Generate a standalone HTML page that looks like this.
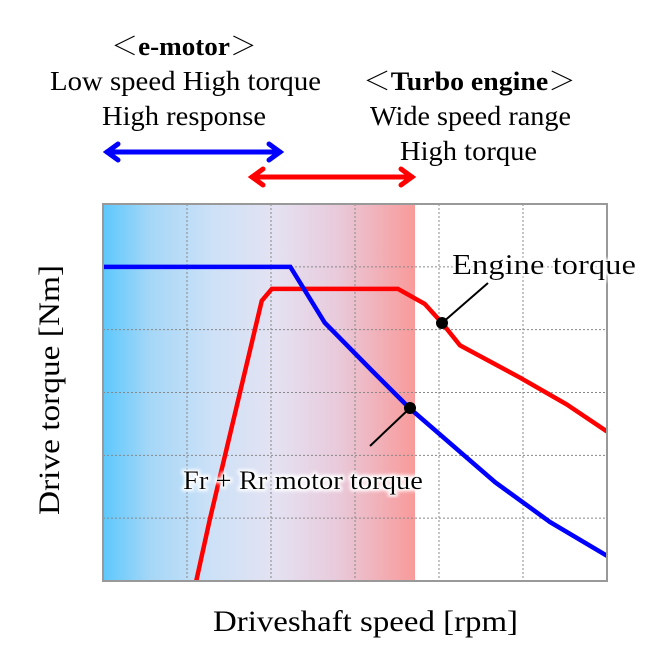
<!DOCTYPE html>
<html><head><meta charset="utf-8"><style>
body{margin:0;background:#fff;}
svg text{font-family:"Liberation Serif","Noto Serif CJK SC",serif;fill:#000;}
</style></head><body>
<svg id="chart" width="647" height="664" viewBox="0 0 647 664" xmlns="http://www.w3.org/2000/svg">
<defs>
<linearGradient id="bg" x1="0" x2="1" y1="0" y2="0">
<stop offset="0" stop-color="#5ec8fc"/><stop offset="0.15" stop-color="#a6d7f7"/>
<stop offset="0.35" stop-color="#cde1f7"/><stop offset="0.55" stop-color="#e4e2f2"/>
<stop offset="0.75" stop-color="#e8cadb"/><stop offset="1" stop-color="#f99a9a"/>
</linearGradient>
<filter id="glow"><feMorphology operator="dilate" radius="2" in="SourceAlpha" result="d"/><feGaussianBlur in="d" stdDeviation="1.5" result="b"/><feFlood flood-color="#fff"/><feComposite in2="b" operator="in"/><feMerge><feMergeNode/><feMergeNode in="SourceGraphic"/></feMerge></filter>
</defs>
<text x="111" y="55" font-size="26" textLength="146" lengthAdjust="spacingAndGlyphs">＜<tspan font-weight="bold">e-motor</tspan>＞</text>
<text x="50" y="90" font-size="27" textLength="271" lengthAdjust="spacingAndGlyphs">Low speed High torque</text>
<text x="102" y="125" font-size="27" textLength="164" lengthAdjust="spacingAndGlyphs">High response</text>
<text x="363" y="90" font-size="26" textLength="213" lengthAdjust="spacingAndGlyphs">＜<tspan font-weight="bold">Turbo engine</tspan>＞</text>
<text x="370" y="125" font-size="27" textLength="201" lengthAdjust="spacingAndGlyphs">Wide speed range</text>
<text x="400" y="160" font-size="27" textLength="137" lengthAdjust="spacingAndGlyphs">High torque</text>
<g stroke="#0000ff" stroke-width="5" fill="none" stroke-linecap="round">
<line x1="107" y1="152" x2="280" y2="152"/><polyline points="118,144 107,152 118,160"/><polyline points="269,144 280,152 269,160"/></g>
<g stroke="#ff0000" stroke-width="5" fill="none" stroke-linecap="round">
<line x1="252" y1="177" x2="412" y2="177"/><polyline points="263,169 252,177 263,185"/><polyline points="401,169 412,177 401,185"/></g>
<rect x="104" y="205" width="311" height="375" fill="url(#bg)"/>
<g id="grid"></g>
<g id="series"></g>
<rect x="103" y="204" width="504" height="377" fill="none" stroke="#999" stroke-width="2"/>
<line x1="442" y1="323" x2="488" y2="283" stroke="#000" stroke-width="2"/>
<line x1="410" y1="408" x2="370" y2="446" stroke="#000" stroke-width="2"/>
<circle cx="442" cy="323" r="6"/>
<circle cx="410" cy="408" r="6"/>
<text x="452" y="274" font-size="29" textLength="184" lengthAdjust="spacingAndGlyphs" filter="url(#glow)">Engine torque</text>
<text x="183" y="489" font-size="26" textLength="240" lengthAdjust="spacingAndGlyphs" filter="url(#glow)">Fr + Rr motor torque</text>
<text transform="translate(59,515) rotate(-90)" font-size="30" textLength="250" lengthAdjust="spacingAndGlyphs">Drive torque [Nm]</text>
<text x="213" y="631" font-size="30" textLength="305" lengthAdjust="spacingAndGlyphs">Driveshaft speed [rpm]</text>
</svg>
<script>
const motorX=[0,2.23,2.64,3.2,3.65,4.67,5.32,6];
const motorY=[5,5,4.11,3.35,2.75,1.57,0.94,0.4];
const engineX=[1.11,1.27,1.89,2.01,3.51,3.83,4.04,4.25,4.96,5.52,6];
const engineY=[0,0.97,4.46,4.65,4.65,4.41,4.1,3.75,3.24,2.81,2.38];
const gridTicks=[1,2,3,4,5];
const NS="http://www.w3.org/2000/svg";
const X0=103,X1=607,Y0=581,Y1=204;
const sx=v=>X0+(X1-X0)*v/6, sy=v=>Y0-(Y0-Y1)*v/6;
const grid=document.getElementById('grid');
gridTicks.forEach(t=>{
 const a=document.createElementNS(NS,'line');
 
 
 a.setAttribute('x1',sx(t));a.setAttribute('x2',sx(t));a.setAttribute('y1',Y1);a.setAttribute('y2',Y0);
 a.setAttribute('stroke','#888');a.setAttribute('stroke-dasharray','2,2');grid.appendChild(a);
 const b=document.createElementNS(NS,'line');
 
 
 b.setAttribute('y1',sy(t));b.setAttribute('y2',sy(t));b.setAttribute('x1',X0);b.setAttribute('x2',X1);
 b.setAttribute('stroke','#888');b.setAttribute('stroke-dasharray','2,2');grid.appendChild(b);
});
const ser=document.getElementById('series');
const e=document.createElementNS(NS,'polyline');


e.setAttribute('points',engineX.map((x,i)=>sx(x)+','+sy(engineY[i])).join(' '));
e.setAttribute('fill','none');e.setAttribute('stroke','#ff0000');e.setAttribute('stroke-width','4.5');
ser.appendChild(e);
const m=document.createElementNS(NS,'polyline');


m.setAttribute('points',motorX.map((x,i)=>sx(x)+','+sy(motorY[i])).join(' '));
m.setAttribute('fill','none');m.setAttribute('stroke','#0000ff');m.setAttribute('stroke-width','4.5');
ser.appendChild(m);
</script>
</body></html>
